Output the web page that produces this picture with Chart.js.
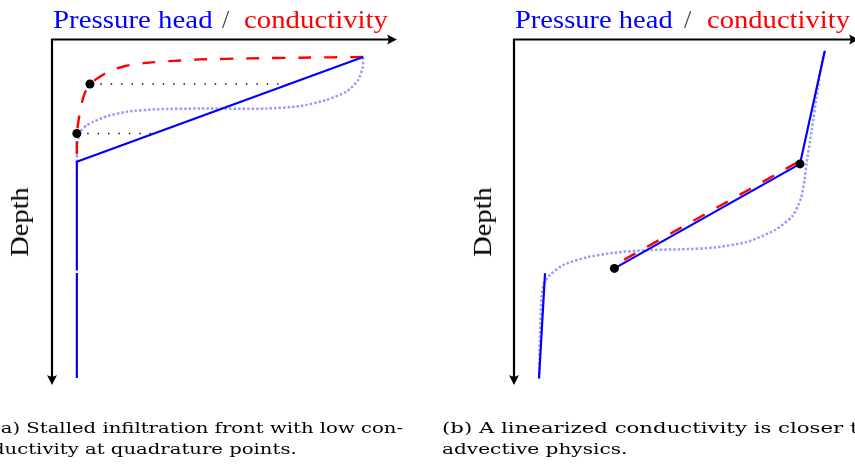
<!DOCTYPE html>
<html>
<head>
<meta charset="utf-8">
<script src="https://cdn.jsdelivr.net/npm/chart.js@4/dist/chart.umd.min.js"></script>
<style>
html,body{margin:0;padding:0;overflow:hidden;background:#fff;width:855px;height:468px;position:relative}
canvas{position:absolute;top:0}
.t{position:absolute;white-space:nowrap;line-height:1;font-family:"Liberation Serif","Times New Roman",serif;transform-origin:0 0}
.title{font-size:26px;top:7px}
.cap{font-size:15px;color:#000;font-family:"DejaVu Serif",serif}
.depth{font-size:26px;color:#000;transform-origin:50% 50%}
</style>
</head>
<body>
<canvas id="ca" width="430" height="468" style="left:0px"></canvas>
<canvas id="cb" width="440" height="468" style="left:430px"></canvas>

<div class="t title" style="left:53px;color:#0000ff" data-w="160">Pressure head</div>
<div class="t title" style="left:222px;color:#444">/</div>
<div class="t title" style="left:244px;color:#ff0000" data-w="144">conductivity</div>
<div class="t title" style="left:515px;color:#0000ff" data-w="158">Pressure head</div>
<div class="t title" style="left:684px;color:#444">/</div>
<div class="t title" style="left:707px;color:#ff0000" data-w="143">conductivity</div>

<div class="t depth" style="left:20.3px;top:221.7px" data-w="70" data-rot="1">Depth</div>
<div class="t depth" style="left:483.3px;top:221.7px" data-w="70" data-rot="1">Depth</div>

<div class="t cap" style="left:-7px;top:420.5px" data-w="410">(a) Stalled infiltration front with low con-</div>
<div class="t cap" style="left:-8px;top:441.6px" data-w="305">ductivity at quadrature points.</div>
<div class="t cap" id="capB1" style="left:442px;top:420.5px"><span id="capB1main">(b) A linearized conductivity is closer </span>to the</div>
<div class="t cap" id="capB2" style="left:442px;top:441.6px" data-w="185">advective physics.</div>

<script>
// ---- Data (arbitrary units: x = value, y = depth, 0..100) ----
const X_MAX = 100;
const DEPTH_MAX = 100;

// Panel (a)
const pressureA_x     = [7.2, 7.2, null, 7.2, 7.2, 90.2];
const pressureA_y     = [98.0, 67.6, null, 66.9, 35.5, 5.2];
const conductivityA_x = [90.2, 71.9, 57.4, 42.9, 34.2, 27.0, 21.2, 16.8, 13.3, 11.0, 10.0, 9.0, 8.1, 7.5, 7.2, 7.2, 7.2];
const conductivityA_y = [5.2, 5.4, 5.6, 5.9, 6.4, 6.9, 7.8, 9.2, 11.3, 13.0, 14.5, 17.1, 21.1, 24.9, 27.7, 32.1, 35.5];
const exactA_x        = [7.2, 7.3, 7.7, 8.6, 10.1, 12.0, 15.9, 21.7, 30.3, 42.9, 62.2, 71.9, 79.6, 85.4, 88.8, 90.1, 90.2];
const exactA_y        = [35.5, 30.6, 28.3, 26.3, 24.9, 23.9, 22.3, 21.0, 20.3, 20.1, 20.1, 19.4, 17.6, 15.2, 11.8, 8.0, 5.3];
const quadA_x         = [11.0, 7.2];
const quadA_y         = [13.0, 27.3];
const guide1A_x       = [11.0, 68.8];
const guide1A_y       = [13.0, 13.0];
const guide2A_x       = [7.2, 29.7];
const guide2A_y       = [27.3, 27.3];

// Panel (b)
const pressureB_x     = [7.25, 8.99, null, 29.1, 82.9, 90.1];
const pressureB_y     = [98.1, 67.7, null, 66.3, 36.1, 3.4];
const conductivityB_x = [31.9, 82.4];
const conductivityB_y = [63.8, 35.5];
const exactB_x        = [7.25, 7.5, 8.0, 8.7, 10.4, 14.3, 21.1, 28.8, 38.5, 48.1, 57.8, 67.4, 75.7, 80.7, 83.2, 84.2, 84.8, 86.3, 87.7, 89.2, 90.1];
const exactB_y        = [98.1, 86.0, 74.5, 70.6, 68.2, 65.3, 63.1, 61.8, 61.0, 60.8, 60.3, 58.7, 55.2, 51.2, 46.0, 40.8, 35.9, 26.3, 16.7, 7.0, 3.4];
const quadB_x         = [29.1, 82.9];
const quadB_y         = [66.3, 36.1];

function pts(xs, ys){ return xs.map((x,i)=>({x:x, y:ys[i]})); }

const axisArrows = {
  id:'axisArrows',
  beforeDatasetsDraw(chart){
    const ctx = chart.ctx;
    const xs = chart.scales.x, ys = chart.scales.y;
    const x0 = xs.getPixelForValue(0), xE = xs.getPixelForValue(X_MAX);
    const y0 = ys.getPixelForValue(0) + 0.5, yE = ys.getPixelForValue(DEPTH_MAX);
    ctx.save();
    ctx.strokeStyle = '#000'; ctx.fillStyle = '#000'; ctx.lineWidth = 2.2; ctx.lineCap = 'butt';
    ctx.lineJoin = 'miter';
    ctx.beginPath();
    ctx.moveTo(xE - 6, y0); ctx.lineTo(x0, y0); ctx.lineTo(x0, yE - 6);
    ctx.stroke();
    ctx.beginPath();
    ctx.moveTo(xE, y0); ctx.lineTo(xE - 10, y0 - 5);
    ctx.quadraticCurveTo(xE - 7, y0, xE - 10, y0 + 5); ctx.closePath(); ctx.fill();
    ctx.beginPath();
    ctx.moveTo(x0, yE); ctx.lineTo(x0 - 5, yE - 10);
    ctx.quadraticCurveTo(x0, yE - 7, x0 + 5, yE - 10); ctx.closePath(); ctx.fill();
    ctx.restore();
  }
};

const BLUE = '#0000ff', RED = '#ff0000', LAV = 'rgba(0,0,255,0.4)';

function lineDs(data, color, width, dash, order, tension){
  return {data:data, showLine:true, borderColor:color, backgroundColor:color, borderWidth:width,
          borderDash:dash, pointRadius:0, order:order, tension:tension||0, spanGaps:false, clip:false};
}
function dotDs(data){
  return {data:data, showLine:false, pointRadius:4.5, pointBackgroundColor:'#000', pointBorderWidth:0,
          borderColor:'#000', backgroundColor:'#000', order:0, clip:false};
}

function makeChart(id, pad, datasets){
  return new Chart(document.getElementById(id), {
    type:'scatter',
    data:{datasets:datasets},
    options:{
      responsive:false, animation:false, events:[],
      layout:{padding:pad},
      plugins:{legend:{display:false}, tooltip:{enabled:false}, title:{display:false}},
      scales:{
        x:{type:'linear', min:0, max:X_MAX, display:false},
        y:{type:'linear', min:0, max:DEPTH_MAX, reverse:true, display:false}
      }
    },
    plugins:[axisArrows]
  });
}

makeChart('ca', {left:52, right:33, top:39, bottom:83}, [
  dotDs(pts(quadA_x, quadA_y)),
  lineDs(pts(pressureA_x, pressureA_y), BLUE, 2.2, [], 1),
  lineDs(pts(conductivityA_x, conductivityA_y), RED, 2.4, [13,13], 2, 0.2),
  lineDs(pts(guide1A_x, guide1A_y), '#000', 1.4, [1.4, 9], 3),
  lineDs(pts(guide2A_x, guide2A_y), '#000', 1.4, [1.4, 9], 3),
  lineDs(pts(exactA_x, exactA_y), LAV, 2.5, [2.5,2], 4, 0.2)
]);

makeChart('cb', {left:84, right:11, top:39, bottom:83}, [
  dotDs(pts(quadB_x, quadB_y)),
  lineDs(pts(pressureB_x, pressureB_y), BLUE, 2.2, [], 1),
  lineDs(pts(conductivityB_x, conductivityB_y), RED, 2.4, [13,13.5], 2),
  lineDs(pts(exactB_x, exactB_y), LAV, 2.5, [2.5,2], 4, 0.2)
]);

function fitText(){
  document.querySelectorAll('[data-w]').forEach(el=>{
    const w = parseFloat(el.dataset.w);
    const nat = el.offsetWidth;
    const s = w / nat;
    if (el.dataset.rot) el.style.transform = 'translate(-50%,-50%) rotate(-90deg) scaleX(' + s + ')';
    else el.style.transform = 'scaleX(' + s + ')';
  });
  const main = document.getElementById('capB1main');
  const s1 = 408 / main.offsetWidth;
  document.getElementById('capB1').style.transform = 'scaleX(' + s1 + ')';
}
fitText();
if (document.fonts && document.fonts.ready) document.fonts.ready.then(fitText);
</script>
</body>
</html>
